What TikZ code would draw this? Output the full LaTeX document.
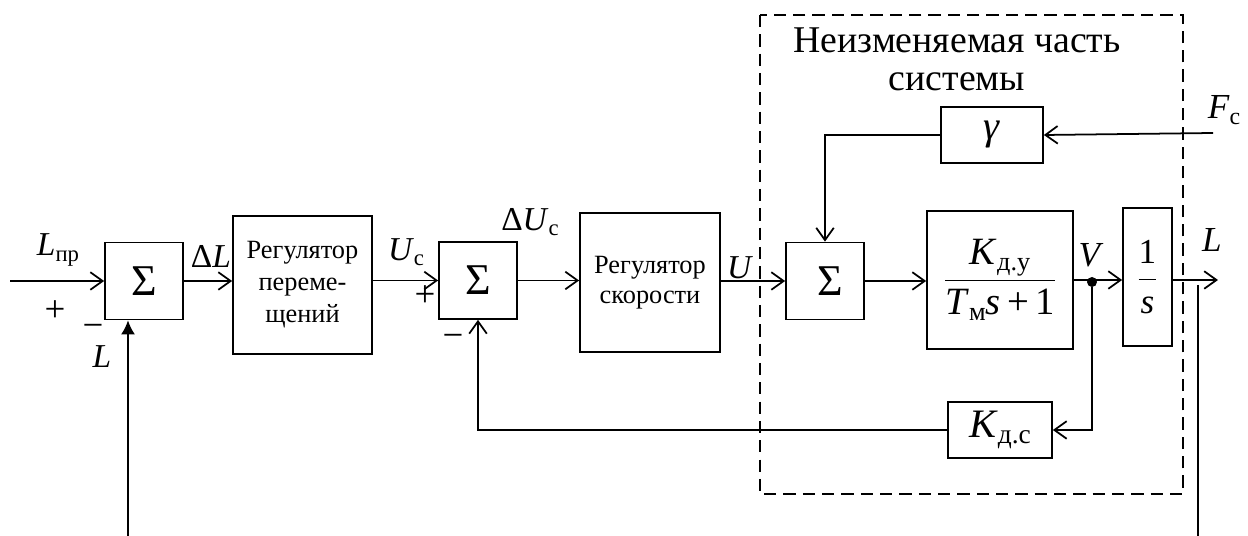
\documentclass[tikz,border=0pt]{standalone}
\usepackage{fontspec}
\setmainfont{Liberation Serif}
\usetikzlibrary{arrows.meta}
\newcommand{\lowidx}[1]{\raisebox{-0.35ex}{\scalebox{0.68}{#1}}}
\tikzset{
  blk/.style={draw, line width=1pt, inner sep=0pt},
  sumbox/.style={blk, minimum width=1.56cm, minimum height=1.54cm, font=\fontsize{25}{25}\selectfont},
  regbox/.style={blk, align=center, minimum width=2.8cm, minimum height=2.78cm},
  sig/.style={line width=1pt, -{Straight Barb[length=7pt,width=10pt]}},
  lbl/.style={inner sep=0pt, font=\fontsize{19}{21}\selectfont},
  sgn/.style={inner sep=0pt, font=\fontsize{21}{21}\selectfont},
}
\begin{document}
\begin{tikzpicture}[x=0.02cm, y=-0.02cm]
\useasboundingbox (0,0) rectangle (1248,536);
% fixed part of the system
\draw[line width=1pt, dash pattern=on 7pt off 4pt] (760,15) rectangle (1183,494);
\node[anchor=base, inner sep=0pt, font=\fontsize{21.5}{22}\selectfont] (title1) at (957,53) {Неизменяемая часть};
\node[anchor=base, inner sep=0pt, font=\fontsize{21.5}{22}\selectfont] (title2) at (957,91) {системы};
% blocks
\node[sumbox] (sum1) at (144,281) {Σ};
\node[regbox, minimum width=2.78cm, minimum height=2.76cm, font=\fontsize{15}{18.2}\selectfont] (regpos) at (302.5,285) {Регулятор\\переме-\\щений};
\node[sumbox] (sum2) at (478,280.5) {Σ};
\node[regbox, font=\fontsize{15}{17}\selectfont] (regvel) at (650,282.5) {Регулятор\\скорости};
\node[sumbox] (sum3) at (825,281) {\hspace{0.2cm}Σ};
\node[blk, minimum width=2.92cm, minimum height=2.76cm, font=\fontsize{22}{24}\selectfont] (plant) at (1000,280)
  {$\displaystyle\frac{\mbox{\textit{K}\lowidx{д.у}}}{\mbox{\textit{T}\lowidx{м}\textit{s}\,+\,1}}$};
\node[blk, minimum width=0.98cm, minimum height=2.76cm, font=\fontsize{20}{22}\selectfont] (integ) at (1147.5,277)
  {$\displaystyle\frac{\mbox{1}}{\mbox{\textit{s}}}$};
\node[blk, minimum width=2.04cm, minimum height=1.12cm, font=\fontsize{23}{23}\selectfont] (gam) at (992,135) {\textit{γ}};
\node[blk, minimum width=2.08cm, minimum height=1.12cm, font=\fontsize{23}{23}\selectfont] (kds) at (1000,430) {\textit{K}\lowidx{д.с}};
% free ends
\coordinate (in) at (10,281);
\coordinate (out) at (1218,280);
\coordinate (fin) at (1213,133);
\coordinate (fbL) at (128,536);
\coordinate (tapR) at (1198,285);
\coordinate (endR) at (1198,536);
\node[circle, fill, inner sep=0pt, minimum size=0.2cm] (split) at (1092,282) {};
% connectors
\draw[sig] (in) -- (sum1.west);
\draw[sig] (sum1.east) -- (sum1.east -| regpos.west);
\draw[sig] (regpos.east |- sum2.west) -- (sum2.west);
\draw[sig] (sum2.east) -- (sum2.east -| regvel.west);
\draw[sig] (regvel.east |- sum3.west) -- (sum3.west);
\draw[sig] (sum3.east) -- (sum3.east -| plant.west);
\draw[sig] (plant.east) -- (plant.east -| integ.west);
\draw[sig] (integ.east |- out) -- (out);
\draw[sig] (split) |- (kds.east);
\draw[sig] (kds.west) -| (sum2.south);
\draw[sig] (fin) -- (gam.east);
\draw[sig] (gam.west) -| (sum3.north);
\draw[line width=1pt, -{Latex[length=8pt,width=8pt]}] (fbL) -- (fbL |- sum1.south);
\draw[line width=1pt] (tapR) -- (endR);
% labels
\node[lbl] (lLpr) at (58,250) {\textit{L}\lowidx{пр}};
\node[sgn] (lp1) at (55,311) {+};
\node[sgn] (lm1) at (93,331) {−};
\node[lbl] (lL1) at (102,357) {\textit{L}};
\node[lbl] (ldL) at (211,256) {Δ\textit{L}};
\node[lbl] (lUc) at (406,252) {\textit{U}\lowidx{с}};
\node[sgn] (lp2) at (425,296) {+};
\node[sgn] (lm2) at (453,341) {−};
\node[lbl] (ldUc) at (530,222) {Δ\textit{U}\lowidx{с}};
\node[lbl] (lU) at (740,268) {\textit{U}};
\node[lbl, font=\fontsize{20}{21}\selectfont] (lV) at (1091,255) {\textit{V}};
\node[lbl, font=\fontsize{20}{21}\selectfont] (lL2) at (1212,240) {\textit{L}};
\node[lbl, font=\fontsize{20}{21}\selectfont] (lFc) at (1224,110) {\textit{F}\lowidx{с}};
\end{tikzpicture}
\end{document}
